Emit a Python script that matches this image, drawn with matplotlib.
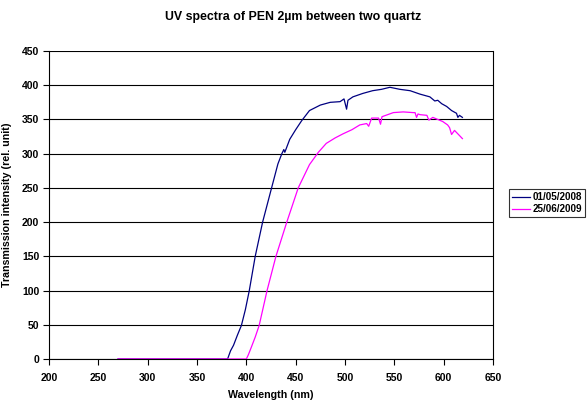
import matplotlib
matplotlib.use("Agg")
import matplotlib.pyplot as plt

plt.rcParams['font.family'] = ['Liberation Sans', 'DejaVu Sans']

title = "UV spectra of PEN 2µm between two quartz"
xlabel = "Wavelength (nm)"
ylabel = "Transmission intensity (rel. unit)"
series_names = ["01/05/2008", "25/06/2009"]

blue_wl = [270, 381, 384, 387, 391, 395, 399, 403, 409, 416.5, 425.6, 432, 436, 438, 439, 444, 450, 456,
           464, 475, 485, 495, 499, 501.6, 503, 508, 518, 528, 537, 545.5, 555.6, 566, 576,
           586, 591, 594, 598, 603, 608, 613, 614.4, 616, 619]
blue_val = [0, 0, 12, 20, 35, 49, 72, 100, 150, 200, 250, 285, 300, 306, 302, 321, 335, 348,
            363, 371, 375, 376, 380, 365, 378, 383, 388, 392, 394, 397, 394, 392, 387,
            383, 377, 378, 373, 369, 363, 359, 353, 356, 353]

mag_wl = [270, 400, 402, 405, 409, 413, 421, 430, 441, 452.6, 464, 473, 481, 490, 498, 507, 515,
          522, 524, 527, 534, 536, 537.5, 549, 559, 569, 571, 572.5, 574, 576, 583, 585,
          589, 599, 604, 606, 608, 611, 619]
mag_val = [0, 0, 6, 17, 32, 49, 100, 150, 200, 250, 284, 302, 315, 323, 329, 335, 342,
           344, 340, 352, 352, 343, 354, 360, 361, 360, 360, 353, 358, 357, 356, 349,
           353, 347, 342, 338, 328, 334, 322]

xticks = [200, 250, 300, 350, 400, 450, 500, 550, 600, 650]
yticks = [0, 50, 100, 150, 200, 250, 300, 350, 400, 450]

fig = plt.figure(figsize=(5.88, 4.01), dpi=100)
ax = fig.add_axes([49/588, 1-359/401, (493-49)/588, (359-51)/401])

for y in yticks:
    ax.axhline(y, color='black', lw=0.8, zorder=1)

ax.plot(blue_wl, blue_val, color='#000080', lw=0.9, label=series_names[0], zorder=3)
ax.plot(mag_wl, mag_val, color='#FF00FF', lw=0.9, label=series_names[1], zorder=3)

ax.set_xlim(200, 650)
ax.set_ylim(0, 450)
ax.set_xticks(xticks)
ax.set_yticks(yticks)
ax.tick_params(direction='out', length=4, width=0.8, labelsize=7.5, pad=3)
ax.tick_params(axis='x', pad=6)
for lab in ax.get_xticklabels() + ax.get_yticklabels():
    lab.set_fontweight('bold')
for s in ax.spines.values():
    s.set_linewidth(0.8)
    s.set_color('black')
ax.spines['top'].set_visible(False)

ax.set_xlabel(xlabel, fontsize=7.7, fontweight='bold', labelpad=5)
ax.set_ylabel(ylabel, fontsize=7.7, fontweight='bold', labelpad=7)
fig.text(0.498, 1-17/401, title, ha='center', va='center', fontsize=8.9, fontweight='bold')

leg = ax.legend(loc='upper left', bbox_to_anchor=(509/588, 1-189/401), bbox_transform=fig.transFigure,
                fontsize=7.1, frameon=True, fancybox=False, edgecolor='black',
                handlelength=1.8, handletextpad=0.25, borderpad=0.3, labelspacing=0.25,
                borderaxespad=0)
leg.get_frame().set_linewidth(0.8)
for t in leg.get_texts():
    t.set_fontweight('bold')

fig.savefig("out.png", dpi=100)
